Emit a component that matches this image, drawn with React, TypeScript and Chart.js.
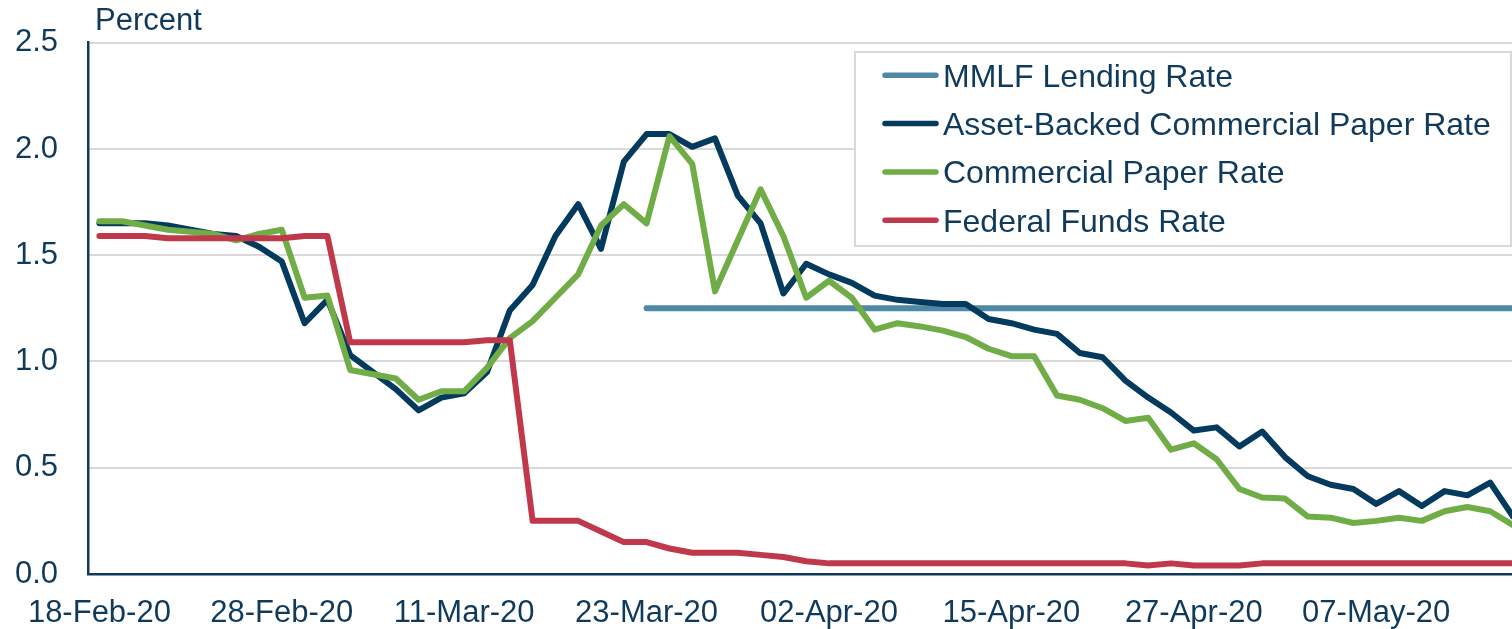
import React, { useEffect, useRef } from 'react';
import { Chart, registerables } from 'chart.js';

Chart.register(...registerables);

// ---------- data ----------
const dates = [
  '18-Feb-20','19-Feb-20','20-Feb-20','21-Feb-20','24-Feb-20','25-Feb-20','26-Feb-20','27-Feb-20','28-Feb-20',
  '02-Mar-20','03-Mar-20','04-Mar-20','05-Mar-20','06-Mar-20','09-Mar-20','10-Mar-20','11-Mar-20','12-Mar-20',
  '13-Mar-20','16-Mar-20','17-Mar-20','18-Mar-20','19-Mar-20','20-Mar-20','23-Mar-20','24-Mar-20','25-Mar-20',
  '26-Mar-20','27-Mar-20','30-Mar-20','31-Mar-20','01-Apr-20','02-Apr-20','03-Apr-20','06-Apr-20','07-Apr-20',
  '08-Apr-20','09-Apr-20','13-Apr-20','14-Apr-20','15-Apr-20','16-Apr-20','17-Apr-20','20-Apr-20','21-Apr-20',
  '22-Apr-20','23-Apr-20','24-Apr-20','27-Apr-20','28-Apr-20','29-Apr-20','30-Apr-20','01-May-20','04-May-20',
  '05-May-20','06-May-20','07-May-20','08-May-20','11-May-20','12-May-20','13-May-20','14-May-20','15-May-20',
];

const mmlfRate = [
  null, null, null, null, null, null, null, null, null,
  null, null, null, null, null, null, null, null, null,
  null, null, null, null, null, null, 1.25, 1.25, 1.25,
  1.25, 1.25, 1.25, 1.25, 1.25, 1.25, 1.25, 1.25, 1.25,
  1.25, 1.25, 1.25, 1.25, 1.25, 1.25, 1.25, 1.25, 1.25,
  1.25, 1.25, 1.25, 1.25, 1.25, 1.25, 1.25, 1.25, 1.25,
  1.25, 1.25, 1.25, 1.25, 1.25, 1.25, 1.25, 1.25, 1.25,
];

const abcpRate = [
  1.65, 1.65, 1.65, 1.64, 1.62, 1.60, 1.59, 1.54, 1.47,
  1.18, 1.29, 1.03, 0.95, 0.87, 0.77, 0.83, 0.85, 0.95,
  1.24, 1.36, 1.59, 1.74, 1.53, 1.94, 2.07, 2.07, 2.01,
  2.05, 1.78, 1.65, 1.32, 1.46, 1.41, 1.37, 1.31, 1.29,
  1.28, 1.27, 1.27, 1.20, 1.18, 1.15, 1.13, 1.04, 1.02,
  0.91, 0.83, 0.76, 0.675, 0.69, 0.60, 0.67, 0.55, 0.46,
  0.42, 0.40, 0.33, 0.39, 0.32, 0.39, 0.37, 0.43, 0.27,
];

const cpRate = [
  1.66, 1.66, 1.64, 1.62, 1.61, 1.60, 1.57, 1.60, 1.62,
  1.30, 1.31, 0.96, 0.94, 0.92, 0.82, 0.86, 0.86, 0.97,
  1.11, 1.19, 1.30, 1.41, 1.64, 1.74, 1.65, 2.06, 1.93,
  1.33, 1.57, 1.81, 1.59, 1.30, 1.38, 1.30, 1.15, 1.18,
  1.165, 1.145, 1.115, 1.06, 1.025, 1.025, 0.84, 0.82, 0.78,
  0.72, 0.735, 0.585, 0.615, 0.54, 0.40, 0.36, 0.355, 0.27,
  0.265, 0.24, 0.25, 0.265, 0.25, 0.295, 0.315, 0.295, 0.23,
];

const fedFundsRate = [
  1.59, 1.59, 1.59, 1.58, 1.58, 1.58, 1.58, 1.58, 1.58,
  1.59, 1.59, 1.09, 1.09, 1.09, 1.09, 1.09, 1.09, 1.10,
  1.10, 0.25, 0.25, 0.25, 0.20, 0.15, 0.15, 0.12, 0.10,
  0.10, 0.10, 0.09, 0.08, 0.06, 0.05, 0.05, 0.05, 0.05,
  0.05, 0.05, 0.05, 0.05, 0.05, 0.05, 0.05, 0.05, 0.05,
  0.05, 0.04, 0.05, 0.04, 0.04, 0.04, 0.05, 0.05, 0.05,
  0.05, 0.05, 0.05, 0.05, 0.05, 0.05, 0.05, 0.05, 0.05,
];

const seriesLabels = [
  'MMLF Lending Rate',
  'Asset-Backed Commercial Paper Rate',
  'Commercial Paper Rate',
  'Federal Funds Rate',
];

const yTicks = [0, 0.5, 1.0, 1.5, 2.0, 2.5];
const yTitle = 'Percent';
const labelEvery = 8;

// ---------- styles ----------
const TEXT = '#0f3a5c';
const AXIS = '#0f3a5c';
const GRID = '#d9d9d9';
const C_MMLF = '#4f87a6';
const C_ABCP = '#033a5d';
const C_CP = '#70ad47';
const C_FF = '#c0394b';
const FONT = '"Liberation Sans", Arial, Helvetica, sans-serif';
const CLEAR = 'rgba(0,0,0,0)';

const overlayPlugin = {
  id: 'overlay',
  afterDraw(chart: any) {
    const ctx = chart.ctx;
    ctx.save();
    // y-axis title
    ctx.font = `31px ${FONT}`;
    ctx.fillStyle = TEXT;
    ctx.textAlign = 'left';
    ctx.textBaseline = 'alphabetic';
    ctx.fillText(yTitle, 95, 29.5);

    // legend box
    const bx = 855, by = 52, bw = 656, bh = 194;
    ctx.fillStyle = '#ffffff';
    ctx.fillRect(bx, by, bw, bh);
    ctx.strokeStyle = GRID;
    ctx.lineWidth = 2;
    ctx.strokeRect(bx, by, bw, bh);

    const dsets = chart.data.datasets;
    ctx.font = `32px ${FONT}`;
    for (let k = 0; k < dsets.length; k++) {
      const cy = 75.3 + k * 48.3;
      ctx.strokeStyle = dsets[k].borderColor;
      ctx.lineWidth = 5.5;
      ctx.lineCap = 'round';
      ctx.beginPath();
      ctx.moveTo(885, cy);
      ctx.lineTo(936, cy);
      ctx.stroke();
      ctx.fillStyle = TEXT;
      ctx.fillText(dsets[k].label, 943, cy + 11.5);
    }
    ctx.restore();
  },
};

export default function App() {
  const ref = useRef<HTMLCanvasElement>(null);

  useEffect(() => {
    if (!ref.current) return;
    const common = {
      pointRadius: 0,
      pointHoverRadius: 0,
      borderWidth: 6,
      tension: 0,
      fill: false,
      borderJoinStyle: 'round' as const,
      borderCapStyle: 'round' as const,
      spanGaps: false,
    };
    const chart = new Chart(ref.current, {
      type: 'line',
      data: {
        labels: dates,
        datasets: [
          { ...common, label: seriesLabels[0], data: mmlfRate, borderColor: C_MMLF, backgroundColor: C_MMLF, order: 4 },
          { ...common, label: seriesLabels[1], data: abcpRate, borderColor: C_ABCP, backgroundColor: C_ABCP, order: 3 },
          { ...common, label: seriesLabels[2], data: cpRate, borderColor: C_CP, backgroundColor: C_CP, order: 2 },
          { ...common, label: seriesLabels[3], data: fedFundsRate, borderColor: C_FF, backgroundColor: C_FF, order: 1 },
        ],
      },
      options: {
        animation: false,
        responsive: false,
        maintainAspectRatio: false,
        devicePixelRatio: 1,
        layout: { padding: { top: 42.7, right: 5.6, left: 0, bottom: 0 } },
        plugins: {
          legend: { display: false },
          tooltip: { enabled: false },
        },
        scales: {
          x: {
            type: 'category',
            offset: true,
            afterFit: (s: any) => { s.height = 55; },
            grid: {
              offset: true,
              drawOnChartArea: false,
              drawTicks: true,
              tickLength: 9,
              lineWidth: 2.5,
              color: (c: any) => (c.index % labelEvery === 0 ? AXIS : CLEAR),
              tickColor: (c: any) => (c.index % labelEvery === 0 ? AXIS : CLEAR),
            },
            border: { display: true, color: AXIS, width: 2.5 },
            ticks: {
              autoSkip: false,
              maxRotation: 0,
              minRotation: 0,
              padding: 12,
              color: TEXT,
              font: { family: FONT, size: 31 },
              callback: (_v: any, i: number) => (i % labelEvery === 0 ? dates[i] : null),
            },
          },
          y: {
            min: yTicks[0],
            max: yTicks[yTicks.length - 1],
            afterFit: (s: any) => { s.width = 88; },
            afterBuildTicks: (s: any) => { s.ticks = yTicks.map((v) => ({ value: v })); },
            grid: {
              drawTicks: true,
              tickLength: 30,
              tickColor: CLEAR,
              lineWidth: 2,
              color: (c: any) => (c.tick && c.tick.value === 0 ? CLEAR : GRID),
            },
            border: { display: true, color: AXIS, width: 2.5 },
            ticks: {
              padding: 0,
              color: TEXT,
              font: { family: FONT, size: 31 },
              callback: (v: any) => Number(v).toFixed(1),
            },
          },
        },
      },
      plugins: [overlayPlugin],
    });
    return () => chart.destroy();
  }, []);

  return (
    <div
      style={{
        position: 'fixed',
        left: 0,
        top: 0,
        width: 1512,
        height: 629,
        overflow: 'hidden',
        background: '#ffffff',
      }}
    >
      <canvas ref={ref} width={1530} height={629} style={{ display: 'block' }} />
    </div>
  );
}
